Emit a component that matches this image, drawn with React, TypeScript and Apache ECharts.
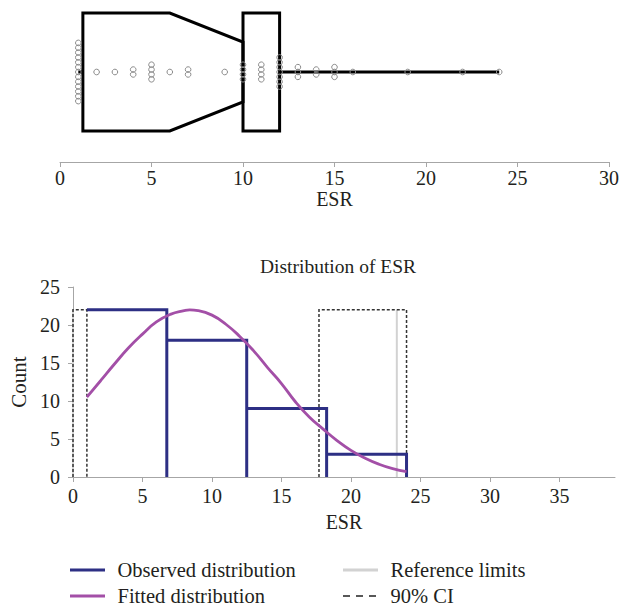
import React, { useEffect, useRef } from 'react';
import * as echarts from 'echarts';

// ---- Top panel: dot plot with notched box ----
const dotValues = [1, 2, 3, 4, 5, 6, 7, 9, 10, 11, 12, 13, 14, 15, 16, 19, 22, 24];
const dotCounts = [13, 1, 1, 2, 4, 1, 2, 1, 4, 4, 7, 3, 2, 3, 1, 1, 1, 1];
// [min, Q1, notch low, median, Q3, max]
const boxStats = [1, 1.25, 6, 10, 12, 24];
const topTicks = [0, 5, 10, 15, 20, 25, 30];

// ---- Bottom panel: histogram ----
const binEdges = [1, 6.75, 12.5, 18.25, 24];
const binCounts = [22, 18, 9, 3];
const fitX = [1, 2, 3, 4, 5, 6, 7, 8, 8.4, 9, 10, 11, 12, 13, 14, 15, 16, 17, 18, 19, 20, 21, 22, 23, 24];
const fitY = [10.5, 12.7, 14.9, 17.0, 18.8, 20.4, 21.4, 21.9, 22.0, 21.9, 21.3, 20.1, 18.5, 16.6, 14.4, 12.3, 9.9, 7.9, 6.3, 4.8, 3.5, 2.5, 1.7, 1.1, 0.7];
const refLimits = [0, 23.3];
const ciLow = [0, 17.7];
const ciHigh = [1.0, 24.0];
const ciHeight = 22;
const bottomTicks = [0, 5, 10, 15, 20, 25, 30, 35];

const legendNames = ['Observed distribution', 'Fitted distribution', 'Reference limits', '90% CI'];

const NAVY = '#2d2f84';
const PURPLE = '#a34fa7';
const REFGRAY = '#d2d2d2';
const AXISGRAY = '#a6a6a6';
const TXT = '#231f20';
const FONT = '"Liberation Serif", "Times New Roman", serif';

export default function App() {
  const ref = useRef<HTMLDivElement>(null);
  useEffect(() => {
    if (!ref.current) return;
    const chart = echarts.init(ref.current, null, { renderer: 'svg' });

    const histRows = binCounts.map((c, i) => [binEdges[i], binEdges[i + 1], c]);
    const ciRows = ciLow.map((lo, i) => [lo, ciHigh[i], ciHeight]);
    const refRows = refLimits.map((v) => [v, ciHeight]);
    const fitRows = fitX.map((x, i) => [x, fitY[i]]);
    const dotRows = dotValues.map((v, i) => [v, dotCounts[i]]);

    // legend drawn as graphic elements
    const legendStyles: any[] = [
      { stroke: NAVY, lineWidth: 3 },
      { stroke: PURPLE, lineWidth: 3 },
      { stroke: REFGRAY, lineWidth: 3 },
      { stroke: '#222', lineWidth: 1.5, lineDash: [7, 6] },
    ];
    const colX = [70, 343];
    const rowY = [570, 596];
    const legendGraphics: any[] = [];
    legendNames.forEach((name, i) => {
      const cx = colX[Math.floor(i / 2)];
      const cy = rowY[i % 2];
      legendGraphics.push({
        type: 'line',
        shape: { x1: cx, y1: cy, x2: cx + 35, y2: cy },
        style: legendStyles[i],
      });
      legendGraphics.push({
        type: 'text',
        x: cx + 47.5,
        y: cy,
        style: {
          text: name,
          fill: TXT,
          font: `20.5px ${FONT}`,
          textAlign: 'left',
          textVerticalAlign: 'middle',
          verticalAlign: 'middle',
        },
      });
    });

    const option: any = {
      animation: false,
      backgroundColor: '#fff',
      textStyle: { fontFamily: FONT },
      title: {
        text: 'Distribution of ESR',
        left: 255,
        top: 251,
        textStyle: { fontFamily: FONT, fontSize: 19.5, fontWeight: 'normal', color: TXT },
      },
      graphic: legendGraphics,
      grid: [
        { left: 60, right: 10, top: 0, height: 162 },
        { left: 71, right: 7, top: 287, height: 190 },
      ],
      xAxis: [
        {
          gridIndex: 0,
          type: 'value',
          min: 0,
          max: 30,
          interval: 5,
          axisLine: { show: true, onZero: false, lineStyle: { color: AXISGRAY, width: 1 } },
          axisTick: { show: true, length: 5, lineStyle: { color: AXISGRAY } },
          axisLabel: { fontSize: 20, margin: 6, color: TXT, fontFamily: FONT, customValues: topTicks },
          splitLine: { show: false },
          name: 'ESR',
          nameLocation: 'middle',
          nameGap: 27,
          nameTextStyle: { fontSize: 20, color: TXT, fontFamily: FONT },
        },
        {
          gridIndex: 1,
          type: 'value',
          min: 0,
          max: 39,
          interval: 5,
          axisLine: { show: true, onZero: false, lineStyle: { color: AXISGRAY, width: 1 } },
          axisTick: { show: true, length: 5, lineStyle: { color: AXISGRAY }, customValues: bottomTicks },
          axisLabel: { fontSize: 20, margin: 9, color: TXT, fontFamily: FONT, customValues: bottomTicks },
          splitLine: { show: false },
          name: 'ESR',
          nameLocation: 'middle',
          nameGap: 35,
          nameTextStyle: { fontSize: 20, color: TXT, fontFamily: FONT },
        },
      ],
      yAxis: [
        { gridIndex: 0, type: 'value', min: -90, max: 72, show: false },
        {
          gridIndex: 1,
          type: 'value',
          min: 0,
          max: 25,
          interval: 5,
          axisLine: { show: true, onZero: false, lineStyle: { color: AXISGRAY, width: 1 } },
          axisTick: { show: true, length: 5, lineStyle: { color: AXISGRAY } },
          axisLabel: { fontSize: 20, margin: 13, color: TXT, fontFamily: FONT },
          splitLine: { show: false },
          name: 'Count',
          nameLocation: 'middle',
          nameGap: 44,
          nameRotate: 90,
          nameTextStyle: { fontSize: 21, color: TXT, fontFamily: FONT },
        },
      ],
      series: [
        // top: box + whiskers
        {
          type: 'custom',
          name: 'box',
          xAxisIndex: 0,
          yAxisIndex: 0,
          data: [boxStats],
          encode: { x: [0, 1, 2, 3, 4, 5], y: 6 },
          renderItem: (params: any, api: any) => {
            const mn = api.value(0), q1 = api.value(1), nl = api.value(2), md = api.value(3), q3 = api.value(4), mx = api.value(5);
            const y0 = api.coord([md, 0])[1];
            const X = (v: number) => api.coord([v, 0])[0];
            const H = 59, N = 30;
            const st = { stroke: '#000', lineWidth: 3, fill: null, lineJoin: 'miter' };
            return {
              type: 'group',
              children: [
                { type: 'line', shape: { x1: X(mn), y1: y0, x2: X(q1), y2: y0 }, style: st },
                { type: 'line', shape: { x1: X(q3), y1: y0, x2: X(mx), y2: y0 }, style: st },
                {
                  type: 'polygon',
                  shape: { points: [[X(q1), y0 - H], [X(nl), y0 - H], [X(md), y0 - N], [X(md), y0 + N], [X(nl), y0 + H], [X(q1), y0 + H]] },
                  style: st,
                },
                { type: 'rect', shape: { x: X(md), y: y0 - H, width: X(q3) - X(md), height: 2 * H }, style: st },
              ],
            };
          },
          z: 2,
        },
        // top: dots
        {
          type: 'custom',
          name: 'dots',
          xAxisIndex: 0,
          yAxisIndex: 0,
          data: dotRows,
          encode: { x: 0, y: 2 },
          renderItem: (params: any, api: any) => {
            const v = api.value(0), n = api.value(1);
            const c = api.coord([v, 0]);
            const pitch = 4.85;
            const children: any[] = [];
            for (let i = 0; i < n; i++) {
              children.push({
                type: 'circle',
                shape: { cx: c[0], cy: c[1] + (i - (n - 1) / 2) * pitch, r: 2.8 },
                style: { fill: null, stroke: '#8a8a8a', lineWidth: 1 },
              });
            }
            return { type: 'group', children };
          },
          z: 3,
        },
        // bottom: reference limits
        {
          type: 'custom',
          name: 'refLines',
          xAxisIndex: 1,
          yAxisIndex: 1,
          data: refRows,
          renderItem: (params: any, api: any) => {
            const a = api.coord([api.value(0), 0]);
            const b = api.coord([api.value(0), api.value(1)]);
            return { type: 'line', shape: { x1: a[0], y1: a[1], x2: b[0], y2: b[1] }, style: { stroke: REFGRAY, lineWidth: 2 } };
          },
          z: 2,
        },
        // bottom: CI dashed boxes
        {
          type: 'custom',
          name: 'ciBoxes',
          xAxisIndex: 1,
          yAxisIndex: 1,
          data: ciRows,
          encode: { x: [0, 1], y: 2 },
          renderItem: (params: any, api: any) => {
            const lo = api.value(0), hi = api.value(1), h = api.value(2);
            const p = [api.coord([lo, 0]), api.coord([lo, h]), api.coord([hi, h]), api.coord([hi, 0])];
            return { type: 'polyline', shape: { points: p }, style: { stroke: '#333', lineWidth: 1.5, fill: null, lineDash: [3, 2] } };
          },
          z: 3,
        },
        // bottom: histogram outline
        {
          type: 'custom',
          name: 'histBars',
          xAxisIndex: 1,
          yAxisIndex: 1,
          data: histRows,
          encode: { x: [0, 1], y: 2 },
          renderItem: (params: any, api: any) => {
            const l = api.value(0), r = api.value(1), c = api.value(2);
            const p = [api.coord([l, c]), api.coord([r, c]), api.coord([r, 0])];
            return { type: 'polyline', shape: { points: p }, style: { stroke: NAVY, lineWidth: 3, fill: null, lineJoin: 'miter' } };
          },
          z: 4,
        },
        // bottom: fitted curve
        {
          type: 'line',
          name: 'Fitted distribution',
          xAxisIndex: 1,
          yAxisIndex: 1,
          data: fitRows,
          smooth: true,
          symbol: 'none',
          lineStyle: { color: PURPLE, width: 2.8 },
          itemStyle: { color: PURPLE },
          z: 5,
        },
      ],
    };
    chart.setOption(option);
    return () => chart.dispose();
  }, []);

  return (
    <div
      ref={ref}
      style={{ position: 'fixed', left: 0, top: 0, width: 622, height: 607, background: '#fff' }}
    />
  );
}
